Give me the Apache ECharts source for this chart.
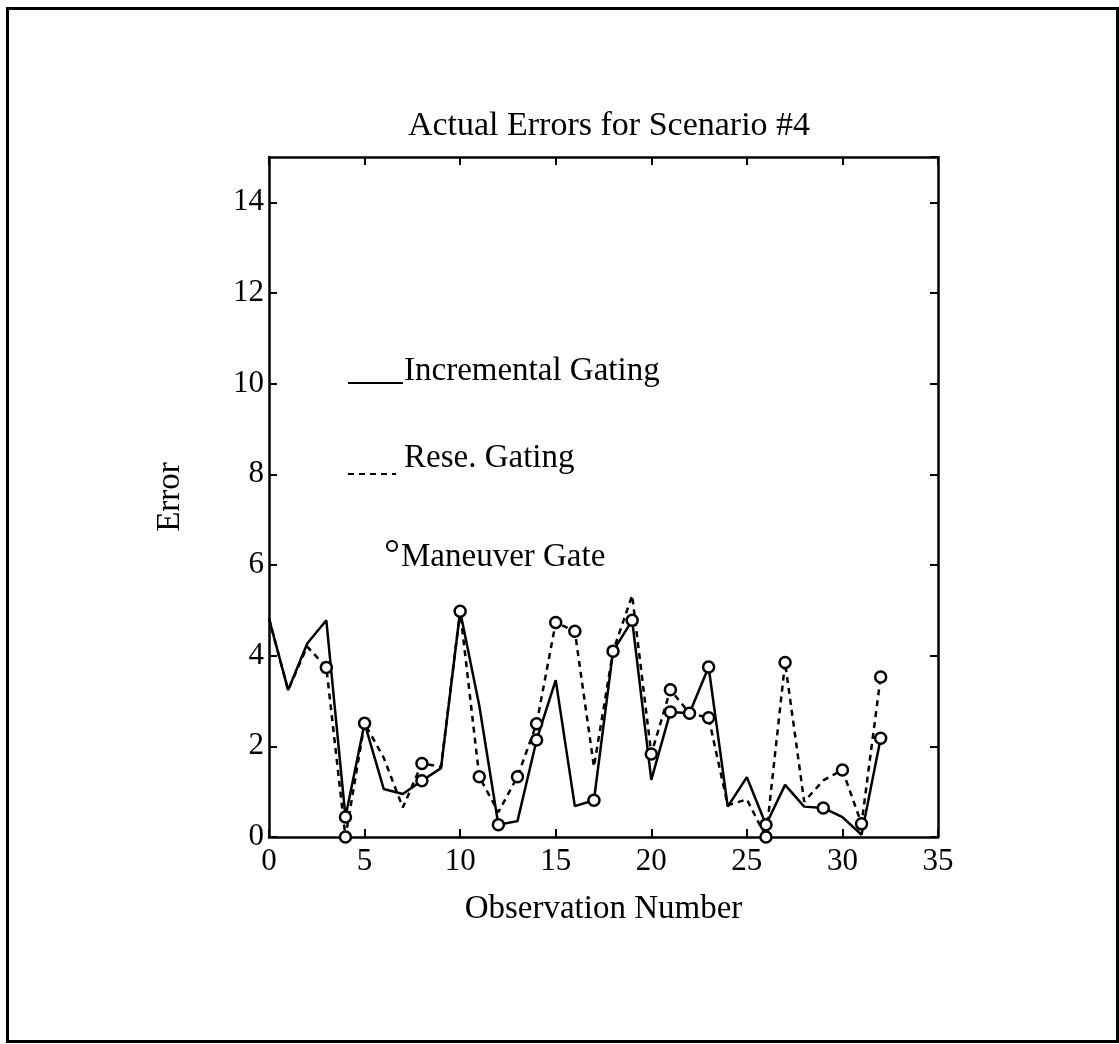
<!DOCTYPE html>
<html>
<head>
<meta charset="utf-8">
<script src="https://cdn.jsdelivr.net/npm/echarts@6/dist/echarts.min.js"></script>
<style>
    body { margin: 0; background: #fff; }
    .frame {
        position: absolute; left: 6px; top: 7px; width: 1107px; height: 1030px;
        border: 3px solid #000;
    }
    #chart { position: absolute; left: 0; top: 0; width: 1119px; height: 1044px; }
</style>
</head>
<body>
<div class="frame"></div>
<div id="chart"></div>
<script>
// observation numbers 0..32
var obs = [0, 1, 2, 3, 4, 5, 6, 7, 8, 9, 10, 11, 12, 13, 14, 15, 16, 17, 18, 19, 20,
    21, 22, 23, 24, 25, 26, 27, 28, 29, 30, 31, 32];

// Incremental Gating (solid)
var incremental = [4.82, 3.24, 4.27, 4.78, 0.44, 2.51, 1.06, 0.95, 1.24, 1.52, 4.98,
    2.9, 0.27, 0.35, 2.14, 3.46, 0.68, 0.81, 4.1, 4.78, 1.26,
    2.76, 2.73, 3.75, 0.67, 1.32, 0.27, 1.15, 0.67, 0.64, 0.44, 0.05, 2.18];

// Reset Gating (dashed)
var reset = [4.82, 3.24, 4.2, 3.74, 0.0, 2.51, 1.75, 0.65, 1.62, 1.55, 4.98,
    1.33, 0.55, 1.33, 2.5, 4.73, 4.54, 1.55, 4.1, 5.33, 1.83,
    3.25, 2.73, 2.63, 0.7, 0.83, 0.0, 3.85, 0.78, 1.25, 1.48, 0.29, 3.53];

// Maneuver gate markers
var gateX = [3, 4, 4, 5, 8, 8, 10, 11, 12, 13, 14, 14, 15, 16, 17, 18, 19, 20, 21, 21,
    22, 23, 23, 26, 26, 27, 29, 30, 31, 32, 32];
var gateY = [3.74, 0.44, 0.0, 2.51, 1.62, 1.24, 4.98, 1.33, 0.27, 1.33, 2.5, 2.14, 4.73, 4.54, 0.81, 4.1, 4.78, 1.83, 3.25, 2.76,
    2.73, 3.75, 2.63, 0.27, 0.0, 3.85, 0.64, 1.48, 0.29, 3.53, 2.18];

var names = ['Incremental Gating', 'Rese. Gating', 'Maneuver Gate'];

var font = 'Liberation Serif';

function pairs(xs, ys) {
    return xs.map(function (x, i) { return [x, ys[i]]; });
}

var boxAxis = {
    axisLine: { show: true, onZero: false, lineStyle: { color: '#000', width: 2.5 } },
    axisTick: { show: true, inside: true, length: 8, lineStyle: { color: '#000', width: 2 } },
    splitLine: { show: false }
};

var legendText = { fontFamily: font, fontSize: 33, color: '#000' };

// legend: line samples sit on the text baseline, so icon and text are separate legends
function iconLegend(name, left, top, w, h) {
    return {
        left: left, top: top, itemWidth: w, itemHeight: h, padding: 0,
        selectedMode: false, data: [name],
        formatter: function () { return ''; }
    };
}
function textLegend(name, left, top) {
    return {
        left: left, top: top, itemWidth: 0, itemHeight: 0, padding: 0,
        selectedMode: false, data: [name], textStyle: legendText
    };
}

var myChart = echarts.init(document.getElementById('chart'));

var option = {
    backgroundColor: 'transparent',
    animation: false,
    title: {
        text: 'Actual Errors for Scenario #4',
        left: 604,
        top: 104,
        textAlign: 'center',
        textStyle: { fontFamily: font, fontSize: 34, fontWeight: 'normal', color: '#000' }
    },
    legend: [
        iconLegend(names[0], 347, 382, 55, 1),
        textLegend(names[0], 398, 355),
        iconLegend(names[1], 347, 473, 48, 1),
        textLegend(names[1], 398, 442),
        iconLegend(names[2], 386, 540, 10, 10),
        textLegend(names[2], 395, 541)
    ],
    grid: { left: 269, right: 181, top: 157, bottom: 207 },
    xAxis: [
        Object.assign({
            type: 'value', min: 0, max: 35, interval: 5, position: 'bottom',
            name: 'Observation Number', nameLocation: 'middle', nameGap: 56,
            nameTextStyle: { fontFamily: font, fontSize: 33, color: '#000' },
            axisLabel: { fontFamily: font, fontSize: 31, color: '#000', margin: 9 }
        }, boxAxis),
        Object.assign({
            type: 'value', min: 0, max: 35, interval: 5, position: 'top',
            axisLabel: { show: false }
        }, boxAxis)
    ],
    yAxis: [
        Object.assign({
            type: 'value', min: 0, max: 15, interval: 2, position: 'left',
            name: 'Error', nameLocation: 'middle', nameGap: 82, nameRotate: 90,
            nameTextStyle: { fontFamily: font, fontSize: 33, color: '#000' },
            axisLabel: { fontFamily: font, fontSize: 31, color: '#000', margin: 5, showMaxLabel: false }
        }, boxAxis),
        Object.assign({
            type: 'value', min: 0, max: 15, interval: 2, position: 'right',
            axisLabel: { show: false }
        }, boxAxis)
    ],
    series: [
        {
            name: names[0],
            type: 'line',
            data: pairs(obs, incremental),
            symbol: 'none',
            lineStyle: { color: '#000', width: 2.5, type: 'solid' },
            itemStyle: { color: '#000' },
            z: 3
        },
        {
            name: names[1],
            type: 'line',
            data: pairs(obs, reset),
            symbol: 'none',
            lineStyle: { color: '#000', width: 2.5, type: [6, 5] },
            itemStyle: { color: '#000' },
            z: 2
        },
        {
            name: names[2],
            type: 'scatter',
            data: pairs(gateX, gateY),
            symbol: 'circle',
            symbolSize: 11,
            itemStyle: { color: '#fff', borderColor: '#000', borderWidth: 2.5, opacity: 1 },
            z: 4
        }
    ]
};

myChart.setOption(option);
</script>
</body>
</html>
